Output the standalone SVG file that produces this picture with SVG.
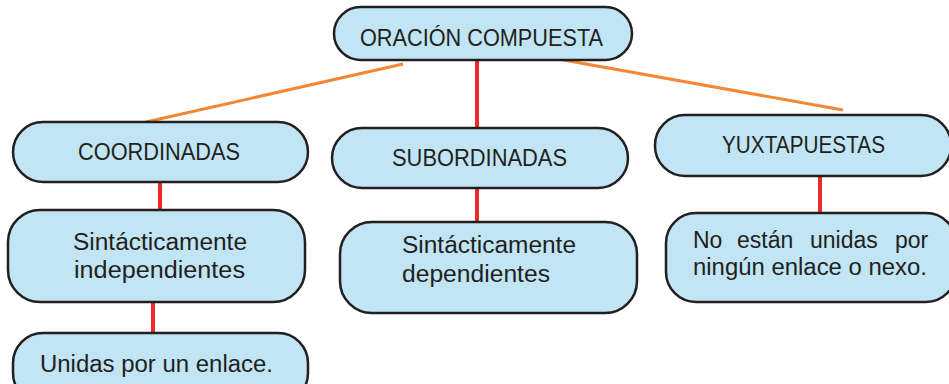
<svg xmlns="http://www.w3.org/2000/svg" width="949" height="384" viewBox="0 0 949 384">
<style>
.n{fill:#c1e5f4;stroke:#231f20;stroke-width:2.5}
.t{font-family:"Liberation Sans",Arial,sans-serif;font-size:23px;fill:#231f20}
.c{text-anchor:middle}
.r{stroke:#ee2a2a;stroke-width:4;fill:none}
.o{stroke:#f58634;stroke-width:3;fill:none}
</style>
<rect width="949" height="384" fill="#ffffff"/>
<g id="connectors">
<line class="o" x1="403" y1="64" x2="146" y2="122"/>
<line class="o" x1="558" y1="59" x2="843" y2="110"/>
<line class="r" x1="477" y1="60" x2="477" y2="128"/>
<line class="r" x1="160" y1="182" x2="160" y2="210"/>
<line class="r" x1="153" y1="302" x2="153" y2="333"/>
<line class="r" x1="477" y1="188" x2="477" y2="222"/>
<line class="r" x1="820" y1="176" x2="820" y2="213"/>
</g>
<g id="oracion">
<rect class="n" x="334" y="7" width="298" height="53" rx="26.5"/>
<text class="t" x="360" y="46" textLength="243" lengthAdjust="spacingAndGlyphs">ORACIÓN COMPUESTA</text>
</g>
<g id="coordinadas">
<rect class="n" x="13" y="122" width="295" height="60" rx="30"/>
<text class="t" x="78" y="160" textLength="162" lengthAdjust="spacingAndGlyphs">COORDINADAS</text>
</g>
<g id="independientes">
<rect class="n" x="8" y="210" width="297" height="92" rx="32"/>
<text class="t" x="73" y="250" textLength="174" lengthAdjust="spacingAndGlyphs">Sintácticamente</text>
<text class="t" x="74" y="278" textLength="171" lengthAdjust="spacingAndGlyphs">independientes</text>
</g>
<g id="unidas">
<rect class="n" x="13" y="333" width="295" height="70" rx="30"/>
<text class="t" x="40" y="372" textLength="233" lengthAdjust="spacingAndGlyphs">Unidas por un enlace.</text>
</g>
<g id="subordinadas">
<rect class="n" x="332" y="128" width="296" height="60" rx="30"/>
<text class="t" x="392" y="166" textLength="175" lengthAdjust="spacingAndGlyphs">SUBORDINADAS</text>
</g>
<g id="dependientes">
<rect class="n" x="340" y="222" width="297" height="91" rx="32"/>
<text class="t" x="402" y="253" textLength="174" lengthAdjust="spacingAndGlyphs">Sintácticamente</text>
<text class="t" x="402" y="282" textLength="148" lengthAdjust="spacingAndGlyphs">dependientes</text>
</g>
<g id="yuxtapuestas">
<rect class="n" x="655" y="115" width="296" height="61" rx="30"/>
<text class="t" x="722" y="153" textLength="163" lengthAdjust="spacingAndGlyphs">YUXTAPUESTAS</text>
</g>
<g id="ningun">
<rect class="n" x="666" y="213" width="290" height="89" rx="30"/>
<text class="t" y="248"><tspan x="693">No</tspan><tspan x="737">están</tspan><tspan x="810">unidas</tspan><tspan x="895">por</tspan></text>
<text class="t" x="693" y="275" textLength="234" lengthAdjust="spacingAndGlyphs">ningún enlace o nexo.</text>
</g>
</svg>
